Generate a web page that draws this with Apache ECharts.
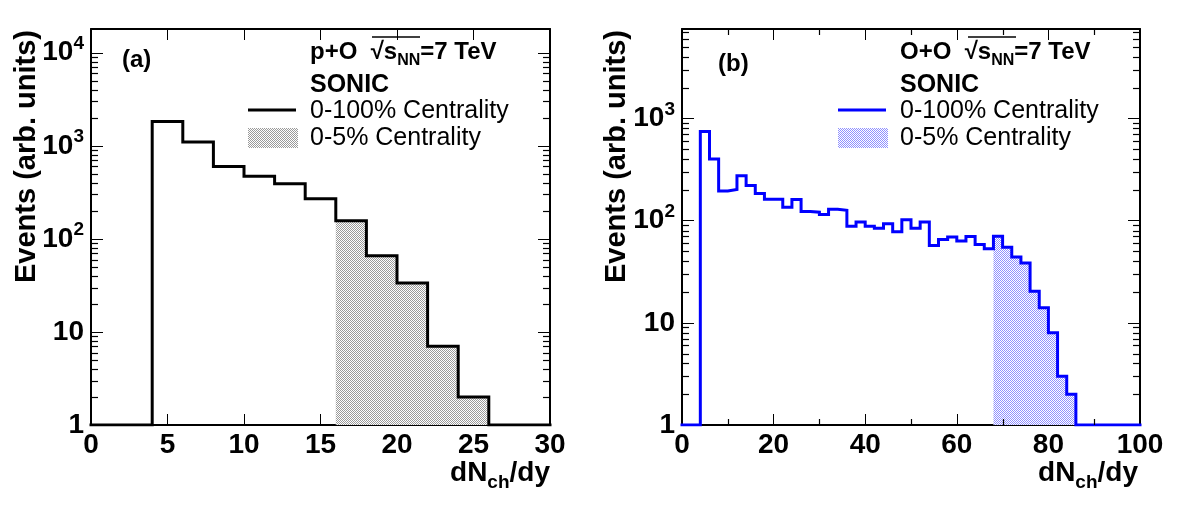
<!DOCTYPE html>
<html>
<head>
<meta charset="utf-8">
<script src="https://cdn.jsdelivr.net/npm/echarts@6/dist/echarts.min.js"></script>
<style>
html, body { margin: 0; padding: 0; background: #fff; }
#chart { width: 1182px; height: 505px; }
</style>
</head>
<body>
<div id="chart"></div>
<script>
// (a) p+O : bin lower edges (width 2) and contents
var poEdges = [0, 2, 4, 6, 8, 10, 12, 14, 16, 18, 20, 22, 24, 26, 28];
var poLastEdge = 30;
var poCounts = [1, 1, 1820, 1100, 600, 470, 390, 270, 157, 66, 33.5, 7, 2, 1, 1];
var poCentral = [16, 26]; // 0-5% range

// (b) O+O
var ooEdges = [0, 2, 4, 6, 8, 10, 12, 14, 16, 18, 20, 22, 24, 26, 28, 30, 32, 34, 36, 38,
    40, 42, 44, 46, 48, 50, 52, 54, 56, 58, 60, 62, 64, 66, 68, 70, 72, 74, 76, 78,
    80, 82, 84, 86, 88, 90, 92, 94, 96, 98];
var ooLastEdge = 100;
var ooCounts = [1, 1, 745, 400, 195, 202, 275, 221, 184, 162, 162, 135, 161, 123, 121, 115, 129, 126, 88, 97,
    88, 84, 93, 78, 102, 84, 97, 57, 65.5, 69, 63, 70, 58.5, 53, 70.5, 55, 44, 38.4, 20.4, 14,
    8, 3, 2, 1, 1, 1, 1, 1, 1, 1];
var ooCentral = [68, 86];

// axis ticks
var poXTicks = [0, 5, 10, 15, 20, 25, 30];
var ooXTicks = [0, 20, 40, 60, 80, 100];
var ooXMinor = [10, 30, 50, 70, 90];
var poYMax = 18000;
var ooYMax = 7500;
var decades = [1, 10, 100, 1000, 10000];
var minorFactors = [2, 3, 4, 5, 6, 7, 8, 9];

var FONT = 'Liberation Sans';

function stepData(edges, counts, lastEdge) {
    var d = edges.map(function (x, i) { return [x, counts[i]]; });
    d.push([lastEdge, counts[counts.length - 1]]);
    return d;
}

function bandData(edges, counts, range) {
    var d = [];
    edges.forEach(function (x, i) {
        if (x >= range[0] && x < range[1]) d.push([x, counts[i]]);
    });
    d.push([range[1], d[d.length - 1][1]]);
    return d;
}

function checker(c1, c2) {
    var cv = document.createElement('canvas');
    cv.width = 2; cv.height = 2;
    var ctx = cv.getContext('2d');
    ctx.fillStyle = c2; ctx.fillRect(0, 0, 2, 2);
    ctx.fillStyle = c1; ctx.fillRect(0, 0, 1, 1); ctx.fillRect(1, 1, 1, 1);
    return { image: cv, repeat: 'repeat' };
}
var grayFill = checker('#9a9a9a', '#ffffff');
var blueFill = checker('#9090ff', '#ffffff');

function logLabel(v) {
    var e = Math.round(Math.log(v) / Math.LN10);
    if (Math.abs(Math.pow(10, e) - v) > 1e-6 * v) return '';
    if (e === 0) return '1';
    if (e === 1) return '10';
    return '10{sup|' + e + '}';
}

function xAxisDef(grid, pos, ticks, labels) {
    return {
        type: 'value', gridIndex: grid, position: pos, min: ticks[0], max: ticks[ticks.length - 1],
        interval: ticks[1] - ticks[0],
        axisLine: { show: true, onZero: false, lineStyle: { color: '#000', width: 2 } },
        axisTick: { show: true, inside: true, length: 11, lineStyle: { color: '#000', width: 1 } },
        splitLine: { show: false },
        axisLabel: {
            show: labels, color: '#000', fontFamily: FONT, fontWeight: 'bold', fontSize: 28, margin: 6,
            showMinLabel: true, showMaxLabel: true
        }
    };
}

function yAxisDef(grid, pos, max, labels) {
    return {
        type: 'log', logBase: 10, gridIndex: grid, position: pos, min: 1, max: max,
        axisLine: { show: true, onZero: false, lineStyle: { color: '#000', width: 2 } },
        axisTick: { show: true, inside: true, length: 12, lineStyle: { color: '#000', width: 1 } },
        splitLine: { show: false },
        axisLabel: {
            show: labels, color: '#000', fontFamily: FONT, fontWeight: 'bold', fontSize: 28, margin: 7,
            showMaxLabel: false,
            formatter: logLabel,
            rich: {
                sup: { fontFamily: FONT, fontWeight: 'bold', fontSize: 19, color: '#000', padding: [0, 0, 18, 0] }
            }
        }
    };
}

function annotation(x, label, col, fill, ovX1, ovX2) {
    return [
        {
            type: 'text', x: x, y: 52, silent: true,
            style: {
                text: '{b|' + label + '  √}{b|s}{sub|NN}{b|=7 TeV}',
                verticalAlign: 'middle',
                rich: {
                    b: { fontFamily: FONT, fontWeight: 'bold', fontSize: 24, fill: '#000' },
                    sub: { fontFamily: FONT, fontWeight: 'bold', fontSize: 16, fill: '#000', padding: [18, 0, 0, 0] }
                }
            }
        },
        {
            type: 'line', silent: true,
            shape: { x1: ovX1, y1: 37, x2: ovX2, y2: 37 },
            style: { stroke: '#000', lineWidth: 1.5 }
        },
        {
            type: 'text', x: x, y: 85, silent: true,
            style: { text: 'SONIC', fontFamily: FONT, fontWeight: 'bold', fontSize: 25, fill: '#000', verticalAlign: 'middle' }
        },
        {
            type: 'text', x: x, y: 111, silent: true,
            style: { text: '0-100% Centrality', fontFamily: FONT, fontSize: 25, fill: '#000', verticalAlign: 'middle' }
        },
        {
            type: 'text', x: x, y: 138, silent: true,
            style: { text: '0-5% Centrality', fontFamily: FONT, fontSize: 25, fill: '#000', verticalAlign: 'middle' }
        },
        {
            type: 'line', silent: true,
            shape: { x1: x - 62, y1: 110, x2: x - 14, y2: 110 },
            style: { stroke: col, lineWidth: 3 }
        },
        {
            type: 'rect', silent: true,
            shape: { x: x - 62, y: 128, width: 50, height: 20 },
            style: { fill: fill }
        }
    ];
}

function axisTitles(xRight, yTitleX, panel, panelX, panelY) {
    return [
        {
            type: 'text', x: yTitleX, y: 30, rotation: Math.PI / 2, silent: true,
            style: {
                text: 'Events (arb. units)', fontFamily: FONT, fontWeight: 'bold', fontSize: 29, fill: '#000',
                align: 'right', verticalAlign: 'middle'
            }
        },
        {
            type: 'text', x: xRight, y: 473, silent: true,
            style: {
                text: '{b|dN}{sub|ch}{b|/dy}', align: 'right', verticalAlign: 'middle',
                rich: {
                    b: { fontFamily: FONT, fontWeight: 'bold', fontSize: 28, fill: '#000' },
                    sub: { fontFamily: FONT, fontWeight: 'bold', fontSize: 19, fill: '#000', padding: [20, 0, 0, 0] }
                }
            }
        },
        {
            type: 'text', x: panelX, y: panelY, silent: true,
            style: { text: panel, fontFamily: FONT, fontWeight: 'bold', fontSize: 24, fill: '#000', verticalAlign: 'middle' }
        }
    ];
}

var chart = echarts.init(document.getElementById('chart'));

var option = {
    animation: false,
    backgroundColor: '#fff',
    textStyle: { fontFamily: FONT },
    grid: [
        { left: 91, top: 29, width: 459, height: 396 },
        { left: 682, top: 29, width: 458, height: 396 }
    ],
    xAxis: [
        xAxisDef(0, 'bottom', poXTicks, true),
        xAxisDef(0, 'top', poXTicks, false),
        xAxisDef(1, 'bottom', ooXTicks, true),
        xAxisDef(1, 'top', ooXTicks, false)
    ],
    yAxis: [
        yAxisDef(0, 'left', poYMax, true),
        yAxisDef(0, 'right', poYMax, false),
        yAxisDef(1, 'left', ooYMax, true),
        yAxisDef(1, 'right', ooYMax, false)
    ],
    series: [
        {
            name: 'p+O 0-5%', type: 'line', xAxisIndex: 0, yAxisIndex: 0, step: 'end', symbol: 'none', z: 1,
            data: bandData(poEdges, poCounts, poCentral),
            lineStyle: { width: 0 },
            areaStyle: { color: grayFill, opacity: 1, origin: 'start' }
        },
        {
            name: 'p+O 0-100%', type: 'line', xAxisIndex: 0, yAxisIndex: 0, step: 'end', symbol: 'none', z: 3,
            data: stepData(poEdges, poCounts, poLastEdge),
            lineStyle: { color: '#000', width: 3, join: 'miter', cap: 'square' }
        },
        {
            name: 'O+O 0-5%', type: 'line', xAxisIndex: 2, yAxisIndex: 2, step: 'end', symbol: 'none', z: 1,
            data: bandData(ooEdges, ooCounts, ooCentral),
            lineStyle: { width: 0 },
            areaStyle: { color: blueFill, opacity: 1, origin: 'start' }
        },
        {
            name: 'O+O 0-100%', type: 'line', xAxisIndex: 2, yAxisIndex: 2, step: 'end', symbol: 'none', z: 3,
            data: stepData(ooEdges, ooCounts, ooLastEdge),
            lineStyle: { color: '#0000ff', width: 3, join: 'miter', cap: 'square' }
        }
    ]
};

chart.setOption(option);

// minor ticks: positions come from the axes' own scales
function tickLine(x1, y1, x2, y2) {
    return { type: 'line', silent: true, z: 10, shape: { x1: x1, y1: y1, x2: x2, y2: y2 },
        style: { stroke: '#000', lineWidth: 1.2 } };
}

function px(finder, v) {
    var p = chart.convertToPixel(finder, v);
    return Array.isArray(p) ? p[finder.xAxisIndex != null ? 0 : 1] : p;
}

function minorTicks(xIdx, yIdx, xTicks, yMax, xMinor) {
    var els = [];
    var xl = px({ xAxisIndex: xIdx }, xTicks[0]);
    var xr = px({ xAxisIndex: xIdx }, xTicks[xTicks.length - 1]);
    var yb = px({ yAxisIndex: yIdx }, 1);
    var yt = px({ yAxisIndex: yIdx }, yMax);
    decades.forEach(function (dec) {
        minorFactors.forEach(function (f) {
            if (dec * f >= yMax) return;
            var y = Math.round(px({ yAxisIndex: yIdx }, dec * f)) + 0.5;
            els.push(tickLine(xl, y, xl + 7, y));
            els.push(tickLine(xr - 7, y, xr, y));
        });
    });
    xMinor.forEach(function (v) {
        var x = Math.round(px({ xAxisIndex: xIdx }, v)) + 0.5;
        els.push(tickLine(x, yb, x, yb - 6));
        els.push(tickLine(x, yt, x, yt + 6));
    });
    return els;
}

chart.setOption({
    graphic: []
        .concat(annotation(310, 'p+O', '#000', grayFill, 372, 420))
        .concat(annotation(900, 'O+O', '#0000ff', blueFill, 968, 1016))
        .concat(axisTitles(550, 27, '(a)', 122, 60))
        .concat(axisTitles(1138, 617, '(b)', 718, 64))
        .concat(minorTicks(0, 0, poXTicks, poYMax, []))
        .concat(minorTicks(2, 2, ooXTicks, ooYMax, ooXMinor))
});
</script>
</body>
</html>
